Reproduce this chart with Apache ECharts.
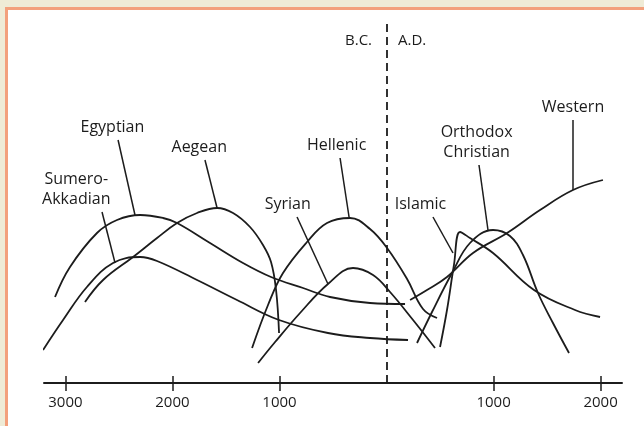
<!DOCTYPE html>
<html>
<head>
<meta charset="utf-8">
<script src="https://cdn.jsdelivr.net/npm/echarts@6/dist/echarts.min.js"></script>
<style>
  html, body { margin: 0; padding: 0; background: #efebd6; overflow: hidden; }
  #frame { position: absolute; left: 5px; top: 7px; width: 660px; height: 440px;
           border-left: 3px solid #f3a07c; border-top: 3px solid #f3a07c; background: #fff; }
  #main { position: absolute; left: 0; top: 0; width: 644px; height: 426px; }
</style>
</head>
<body>
<div id="frame"></div>
<div id="main"></div>
<script>
// years (negative = B.C.) and relative level of each civilization
const sumeroYears = [-3209, -3022, -2799, -2555, -2302, -2144, -1770, -1397, -1004, -547, -154, 201];
const sumeroLevels = [33, 63, 96, 120, 126, 122, 103, 83, 63, 50, 45, 43];

const egyptYears = [-3097, -2957, -2705, -2518, -2302, -2088, -1957, -1649, -1341, -1079, -780, -528, -154, 173];
const egyptLevels = [86, 116, 150, 163, 168, 165, 160, 140, 120, 106, 95, 86, 80, 79];

const aegeanYears = [-2817, -2648, -2368, -2144, -1957, -1770, -1583, -1434, -1275, -1154, -1079, -1032, -1004];
const aegeanLevels = [81, 103, 126, 145, 160, 170, 175, 170, 156, 138, 121, 93, 50];

const hellenicYears = [-1256, -1107, -967, -743, -556, -341, -154, 5, 192, 341, 472];
const hellenicLevels = [35, 78, 110, 141, 160, 165, 154, 135, 104, 74, 65];

const syrianYears = [-1200, -1041, -808, -547, -313, -126, 33, 248, 453];
const syrianLevels = [20, 41, 70, 99, 115, 108, 91, 63, 35];

const islamicYears = [500, 565, 630, 687, 780, 995, 1378, 1761, 1995];
const islamicLevels = [36, 73, 118, 151, 145, 130, 93, 73, 66];

const orthodoxYears = [285, 425, 612, 780, 995, 1153, 1275, 1415, 1555, 1705];
const orthodoxLevels = [40, 71, 110, 140, 153, 147, 128, 90, 60, 30];

const westernYears = [220, 378, 565, 808, 1126, 1434, 1742, 2022];
const westernLevels = [83, 93, 106, 130, 150, 173, 193, 203];

const tickYears = [-3000, -2000, -1000, 1000, 2000];

// name label: leader from point on curve to label anchor, [year, level]
const labelNames = ['Sumero-\nAkkadian', 'Egyptian', 'Aegean', 'Hellenic', 'Syrian', 'Islamic', 'Orthodox\nChristian', 'Western'];
const leaderFrom = [[-2536, 120], [-2350, 168], [-1583, 175], [-350, 166], [-547, 99], [621, 130], [948, 153], [1742, 193]];
const leaderTo = [[-2658, 171], [-2508, 243], [-1696, 223], [-434, 225], [-836, 166], [434, 166], [864, 218], [1742, 263]];
const labelShift = [25, 5, 5, 3, 8, 11, 2, 0];

const font = '"Open Sans", "DejaVu Sans", sans-serif';
const ink = '#1c1c1c';

const curves = [
  [sumeroYears, sumeroLevels],
  [egyptYears, egyptLevels],
  [aegeanYears, aegeanLevels],
  [hellenicYears, hellenicLevels],
  [syrianYears, syrianLevels],
  [islamicYears, islamicLevels],
  [orthodoxYears, orthodoxLevels],
  [westernYears, westernLevels]
];

const series = curves.map(function (c, i) {
  const lines = [[
    { coord: leaderFrom[i] },
    {
      coord: leaderTo[i],
      label: {
        show: true,
        position: 'end',
        distance: 3,
        formatter: labelNames[i],
        color: ink,
        fontFamily: font,
        fontSize: 16,
        lineHeight: 20,
        padding: [0, labelShift[i] * 2, 0, 0]
      }
    }
  ]];
  if (i === 0) {
    // B.C. / A.D. divider
    lines.push({
      xAxis: 0,
      lineStyle: { type: [8, 5], width: 1.8, color: ink },
      label: { show: false }
    });
  }
  return {
    type: 'line',
    name: labelNames[i],
    data: c[0].map(function (y, k) { return [y, c[1][k]]; }),
    smooth: 0.4,
    showSymbol: false,
    symbol: 'none',
    lineStyle: { color: ink, width: 1.8 },
    silent: true,
    markLine: {
      silent: true,
      symbol: ['none', 'none'],
      lineStyle: { color: ink, width: 1.5, type: 'solid' },
      label: { show: false },
      data: lines
    }
  };
});

const chart = echarts.init(document.getElementById('main'));
chart.setOption({
  animation: false,
  backgroundColor: 'transparent',
  grid: { left: 44, right: 22, top: 23, bottom: 43 },
  xAxis: [
    {
      type: 'value', min: -3200, max: 2200, position: 'bottom',
      axisLine: { lineStyle: { color: ink, width: 2 } },
      axisTick: { customValues: tickYears, length: 8, lineStyle: { color: ink, width: 1.5 } },
      axisLabel: {
        customValues: tickYears,
        formatter: function (v) { return String(Math.abs(v)); },
        margin: 12, fontSize: 15, fontFamily: font, color: ink
      },
      splitLine: { show: false }
    },
    {
      type: 'value', min: -3200, max: 2200, position: 'bottom',
      axisLine: { show: false },
      axisTick: { customValues: tickYears, inside: true, length: 7, lineStyle: { color: ink, width: 1.5 } },
      axisLabel: { show: false },
      splitLine: { show: false }
    }
  ],
  yAxis: { type: 'value', min: 0, max: 360, show: false },
  graphic: [
    { type: 'text', left: 345, top: 33, style: { text: 'B.C.', font: '15px ' + font, fill: ink } },
    { type: 'text', left: 398, top: 33, style: { text: 'A.D.', font: '15px ' + font, fill: ink } }
  ],
  series: series
});
</script>
</body>
</html>
